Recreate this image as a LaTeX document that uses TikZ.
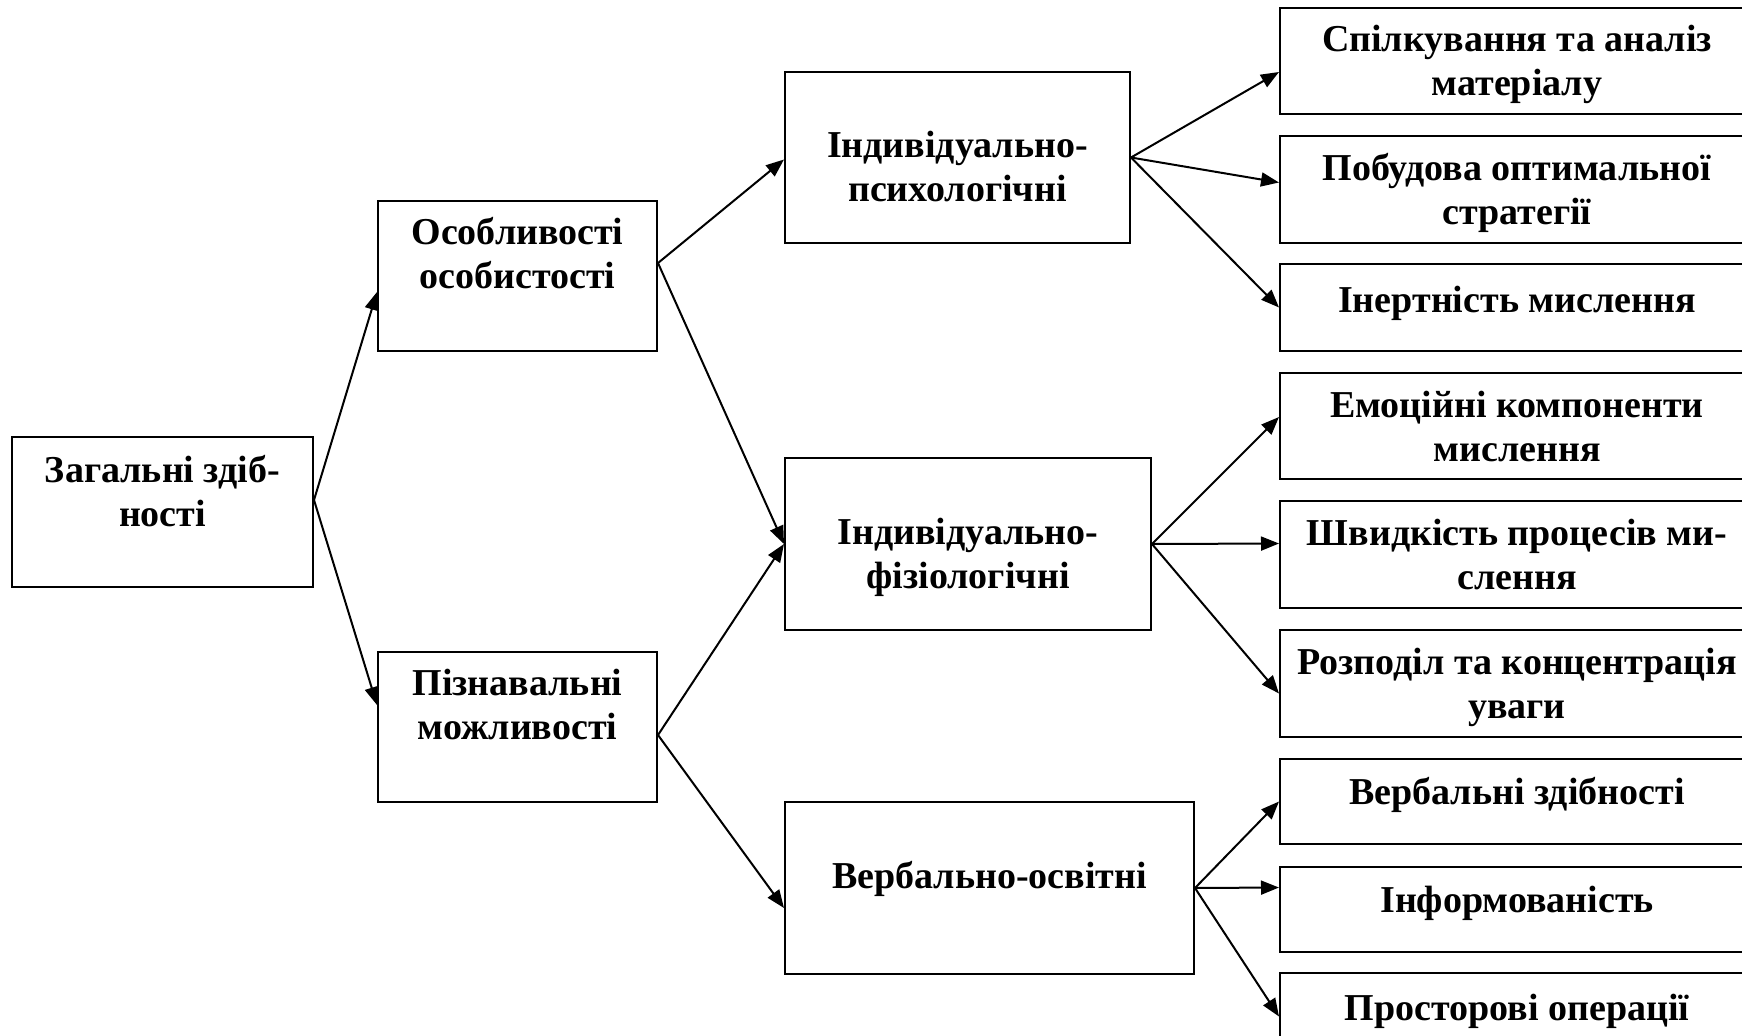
\documentclass[tikz,border=0pt]{standalone}
\usepackage{fontspec}
\setmainfont{Liberation Serif}
\usetikzlibrary{arrows.meta}
% text of a box, lifted by #1 without changing the box size
\newcommand{\boxtext}[2]{\raisebox{#1}[\height][\depth]{\begin{tabular}{@{}c@{}}#2\end{tabular}}}

\begin{document}
\begin{tikzpicture}[x=0.5pt,y=-0.5pt,font=\fontsize{19}{22}\selectfont\bfseries,
  box/.style={draw,line width=1pt,align=center,inner sep=0pt},
  rbox/.style={box,minimum width=237pt},
  link/.style={-{Triangle[length=9pt,width=7pt]},line width=1pt}]
  \useasboundingbox (0,0) rectangle (1742,1035);
  \clip (0,0) rectangle (1742,1035);
  % left and middle columns
  \node[box,minimum width=150.5pt,minimum height=75pt] (zag) at (162.5,512) {\boxtext{8pt}{Загальні здіб-\\ності}};
  \node[box,minimum width=139.5pt,minimum height=75pt] (osob) at (517.5,276) {\boxtext{9pt}{Особливості\\особистості}};
  \node[box,minimum width=139.5pt,minimum height=75pt] (pizn) at (517.5,727) {\boxtext{9pt}{Пізнавальні\\можливості}};
  \node[box,minimum width=172.5pt,minimum height=85.5pt] (psy) at (957.5,157.5) {\boxtext{-6.5pt}{Індивідуально-\\психологічні}};
  \node[box,minimum width=183pt,minimum height=86pt] (fiz) at (968,544) {\boxtext{-7pt}{Індивідуально-\\фізіологічні}};
  \node[box,minimum width=204.5pt,minimum height=86pt] (verb) at (989.5,888) {\boxtext{4pt}{Вербально-освітні}};
  % right column
  \node[rbox,minimum height=53pt] (spil) at (1517,61) {\boxtext{-2pt}{Спілкування та аналіз\\матеріалу}};
  \node[rbox,minimum height=53.5pt] (pob) at (1517,189.5) {\boxtext{-2pt}{Побудова оптимальної\\стратегії}};
  \node[rbox,minimum height=43.5pt] (inert) at (1517,307.5) {\boxtext{1.7pt}{Інертність мислення}};
  \node[rbox,minimum height=53pt] (emo) at (1517,426) {Емоційні компоненти\\мислення};
  \node[rbox,minimum height=53.5pt] (shv) at (1517,554.5) {Швидкість процесів ми-\\слення};
  \node[rbox,minimum height=53.5pt] (rozp) at (1517,683.5) {\boxtext{-2pt}{Розподіл та концентрація\\уваги}};
  \node[rbox,minimum height=42.5pt] (vzd) at (1517,801.5) {\boxtext{2.8pt}{Вербальні здібності}};
  \node[rbox,minimum height=42.5pt] (inf) at (1517,909.5) {\boxtext{2.8pt}{Інформованість}};
  \node[rbox,minimum height=43.5pt] (prost) at (1517,1016.5) {\boxtext{2.2pt}{Просторові операції}};
  % arrows
  \draw[link] ([yshift=6pt]zag.east) -- ([yshift=-8pt]osob.west);
  \draw[link] ([yshift=6pt]zag.east) -- ([yshift=11pt]pizn.west);
  \draw[link] ([yshift=6.5pt]osob.east) -- ([yshift=-1pt]psy.west);
  \draw[link] ([yshift=6.5pt]osob.east) -- (fiz.west);
  \draw[link] ([yshift=-4pt]pizn.east) -- (fiz.west);
  \draw[link] ([yshift=-4pt]pizn.east) -- ([yshift=-10pt]verb.west);
  \draw[link] (psy.east) -- ([yshift=-5.5pt]spil.west);
  \draw[link] (psy.east) -- ([yshift=3.5pt]pob.west);
  \draw[link] (psy.east) -- (inert.west);
  \draw[link] (fiz.east) -- ([yshift=4.5pt]emo.west);
  \draw[link] (fiz.east) -- ([yshift=5.5pt]shv.west);
  \draw[link] (fiz.east) -- ([yshift=-5pt]rozp.west);
  \draw[link] (verb.east) -- (vzd.west);
  \draw[link] (verb.east) -- ([yshift=11pt]inf.west);
  \draw[link] (verb.east) -- (prost.west);
\end{tikzpicture}
\end{document}
